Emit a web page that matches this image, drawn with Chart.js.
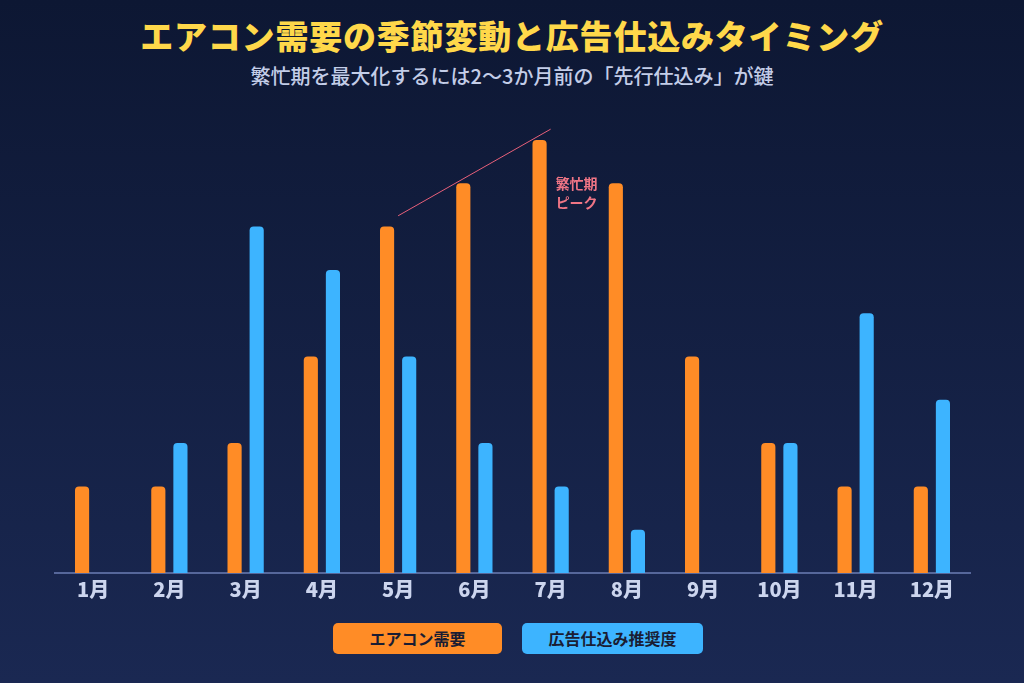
<!DOCTYPE html>
<html lang="ja">
<head>
<meta charset="utf-8">
<script src="https://cdn.jsdelivr.net/npm/chart.js@4"></script>
<style>
  html, body { margin: 0; padding: 0; }
  body {
    width: 1024px; height: 683px; overflow: hidden; position: relative;
    background: linear-gradient(180deg, #0d1733 0%, #1a2852 100%);
    font-family: "Noto Sans CJK JP", "Noto Sans", sans-serif;
  }
  #title {
    position: absolute; top: 11px; left: 0; width: 100%; text-align: center;
    color: #ffd84a; font-size: 33px; font-weight: 900; letter-spacing: 0.8px;
  }
  #subtitle {
    position: absolute; top: 61px; left: 0; width: 100%; text-align: center;
    color: #c3cde8; font-size: 20px; font-weight: 500;
  }
  #chartWrap { position: absolute; left: 0; top: 0; width: 1024px; height: 683px; }
  #legend {
    position: absolute; top: 623px; left: 6px; width: 100%;
    display: flex; justify-content: center; gap: 20px;
  }
  .legend-item {
    height: 31px; line-height: 31px; border-radius: 5px; text-align: center;
    color: #1a1d33; font-size: 16px; font-weight: 700;
  }
</style>
</head>
<body>
<div id="title">エアコン需要の季節変動と広告仕込みタイミング</div>
<div id="subtitle">繁忙期を最大化するには2〜3か月前の「先行仕込み」が鍵</div>
<div id="chartWrap"><canvas id="seasonChart" width="1024" height="683"></canvas></div>
<div id="legend"></div>

<script>
// Months and series values
const months = ['1月', '2月', '3月', '4月', '5月', '6月', '7月', '8月', '9月', '10月', '11月', '12月'];
const demand = [2, 2, 3, 5, 8, 9, 10, 9, 5, 3, 2, 2];
const adTiming = [0, 3, 8, 7, 5, 3, 2, 1, 0, 3, 6, 4];
const seriesNames = ['エアコン需要', '広告仕込み推奨度'];
const seriesColors = ['#ff8c26', '#3db4ff'];

// Rising trend line toward the peak: [month index, value]
const peakLine = [[4, 8.25], [6, 10.25]];
const peakLabel = ['繁忙期', 'ピーク'];

// Draws the trend line and the peak label
const peakPlugin = {
    id: 'peakPlugin',
    afterDatasetsDraw(chart) {
        const { ctx, scales: { x, y } } = chart;
        ctx.save();
        ctx.strokeStyle = '#e8607a';
        ctx.lineWidth = 1;
        ctx.beginPath();
        ctx.moveTo(x.getPixelForValue(peakLine[0][0]), y.getPixelForValue(peakLine[0][1]));
        ctx.lineTo(x.getPixelForValue(peakLine[1][0]), y.getPixelForValue(peakLine[1][1]));
        ctx.stroke();

        ctx.fillStyle = '#f07585';
        ctx.font = '700 14px "Noto Sans CJK JP"';
        ctx.textAlign = 'left';
        ctx.textBaseline = 'middle';
        const lx = x.getPixelForValue(6) + 5;
        const ly = y.getPixelForValue(9.0);
        ctx.fillText(peakLabel[0], lx, ly);
        ctx.fillText(peakLabel[1], lx, ly + 19);
        ctx.restore();
    }
};

const chart = new Chart(document.getElementById('seasonChart'), {
    type: 'bar',
    data: {
        labels: months,
        datasets: [
            { label: seriesNames[0], data: demand, backgroundColor: seriesColors[0] },
            { label: seriesNames[1], data: adTiming, backgroundColor: seriesColors[1] }
        ]
    },
    options: {
        responsive: false,
        animation: false,
        layout: { padding: { left: 55, right: 54, top: 140, bottom: 78 } },
        datasets: {
            bar: {
                categoryPercentage: 0.58,
                barPercentage: 0.64,
                borderRadius: { topLeft: 4, topRight: 4, bottomLeft: 0, bottomRight: 0 },
                borderSkipped: 'bottom'
            }
        },
        plugins: {
            legend: { display: false },
            tooltip: { enabled: false }
        },
        scales: {
            x: {
                grid: { display: false, drawTicks: false },
                border: { display: true, color: '#56679a', width: 2 },
                ticks: {
                    color: '#ccd5ee',
                    padding: 4,
                    font: { family: '"Noto Sans CJK JP"', size: 20, weight: '900' }
                }
            },
            y: {
                display: false,
                min: 0,
                max: 10
            }
        }
    },
    plugins: [peakPlugin]
});

// Legend boxes built from the datasets
const legend = document.getElementById('legend');
const legendWidths = [169, 181];
chart.data.datasets.forEach((ds, i) => {
    const item = document.createElement('div');
    item.className = 'legend-item';
    item.style.backgroundColor = ds.backgroundColor;
    item.style.width = legendWidths[i] + 'px';
    item.textContent = ds.label;
    legend.appendChild(item);
});
</script>
</body>
</html>
